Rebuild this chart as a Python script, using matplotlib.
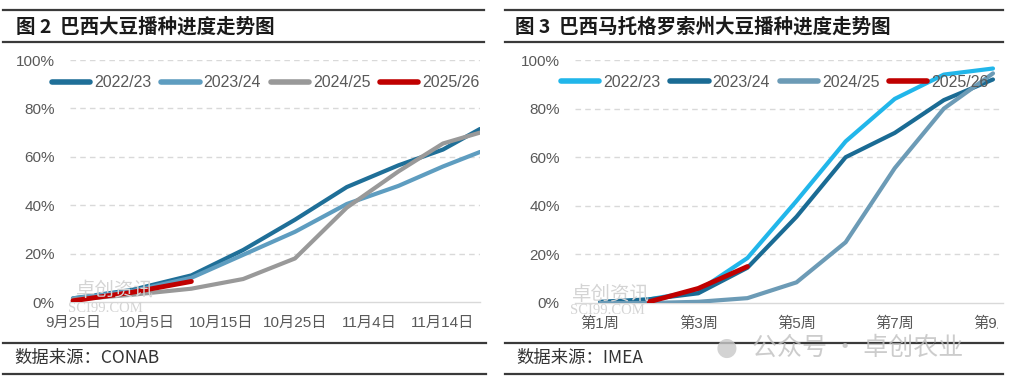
import matplotlib
matplotlib.use("Agg")
import matplotlib.pyplot as plt
import pandas as pd
from matplotlib.lines import Line2D
from matplotlib.transforms import Bbox, TransformedBbox

# ---------------- data ----------------
# Figure 2: Brazil soybean planting progress (CONAB), % planted
left_dates = ["2025-09-25", "2025-10-03", "2025-10-11", "2025-10-18", "2025-10-25",
              "2025-11-01", "2025-11-08", "2025-11-14", "2025-11-19"]
left_2022_23 = [1.5, 5.0, 11.0, 21.5, 34.0, 47.5, 56.5, 63.0, 71.5]
left_2023_24 = [1.5, 4.5, 10.0, 19.5, 29.0, 40.5, 48.0, 56.0, 62.0]
left_2024_25 = [1.0, 3.0, 5.5, 9.5, 18.0, 39.0, 54.0, 65.5, 70.0]
left_2025_26 = [0.5, 4.0, 8.5]
left_tick_dates = ["2025-09-25", "2025-10-05", "2025-10-15", "2025-10-25", "2025-11-04", "2025-11-14"]
left_tick_labels = ["9月25日", "10月5日", "10月15日", "10月25日", "11月4日", "11月14日"]

# Figure 3: Mato Grosso soybean planting progress (IMEA), % planted
right_weeks = [1, 2, 3, 4, 5, 6, 7, 8, 9]
right_2022_23 = [0.0, 1.5, 5.0, 18.5, 42.0, 66.5, 84.0, 94.0, 96.5]
right_2023_24 = [0.5, 1.5, 4.0, 14.5, 35.5, 60.0, 70.0, 83.5, 92.0]
right_2024_25 = [0.0, 0.0, 0.5, 2.0, 8.5, 25.0, 55.5, 80.0, 94.5]
right_2025_26_weeks = [2, 3, 4]
right_2025_26 = [0.5, 6.0, 15.0]
right_ticks = [1, 3, 5, 7, 9]
right_tick_labels = ["第1周", "第3周", "第5周", "第7周", "第9周"]

series_names = ["2022/23", "2023/24", "2024/25", "2025/26"]
y_ticks = [0, 20, 40, 60, 80, 100]
y_tick_labels = ["0%", "20%", "40%", "60%", "80%", "100%"]

# ---------------- style ----------------
W, H = 1012, 385
FONT = ["Liberation Sans", "Noto Sans CJK SC"]
CJK = ["Noto Sans CJK SC", "DejaVu Sans"]
TICK_COLOR = "#595959"
GRID_COLOR = "#d9d9d9"
RULE_COLOR = "#3a3a3a"
LW = 3.0

left_colors = ["#1f6f98", "#5e9dc0", "#999999", "#c00000"]
right_colors = ["#21b6ea", "#1a6b94", "#6c9bb6", "#c00000"]

plt.rcParams["font.family"] = FONT

fig = plt.figure(figsize=(W / 100, H / 100), dpi=100)
fig.patch.set_facecolor("white")


def px_axes(x0, x1, ytop, ybot):
    return fig.add_axes([x0 / W, (H - ybot) / H, (x1 - x0) / W, (ybot - ytop) / H])


def hrule(x0, x1, y, lw=1.6):
    fig.add_artist(Line2D([x0 / W, x1 / W], [(H - y) / H, (H - y) / H],
                          color=RULE_COLOR, lw=lw, transform=fig.transFigure))


def style_axes(ax):
    ax.set_ylim(0, 100)
    ax.set_yticks(y_ticks)
    ax.set_yticklabels(y_tick_labels)
    for s in ["top", "right", "left"]:
        ax.spines[s].set_visible(False)
    ax.spines["bottom"].set_color(GRID_COLOR)
    ax.spines["bottom"].set_linewidth(1.0)
    ax.tick_params(axis="both", length=0, colors=TICK_COLOR, labelsize=11)
    ax.tick_params(axis="y", pad=11)
    ax.tick_params(axis="x", pad=10)
    for y in y_ticks[1:]:
        ax.axhline(y, color=GRID_COLOR, lw=1.0, ls=(0, (4, 3)), zorder=0)
    for lbl in ax.get_xticklabels() + ax.get_yticklabels():
        lbl.set_fontfamily(FONT)


def add_legend(ax, colors, cx, cy):
    handles = [Line2D([0], [0], color=c, lw=4.0, solid_capstyle="round") for c in colors]
    leg = ax.legend(handles, series_names, loc="center", bbox_to_anchor=(cx, cy),
                    ncol=4, frameon=False, fontsize=11.5, handlelength=2.4,
                    handletextpad=0.25, columnspacing=0.6, borderaxespad=0, borderpad=0)
    for t in leg.get_texts():
        t.set_color(TICK_COLOR)
    return leg


# ---------------- left panel ----------------
base = pd.Timestamp(left_dates[0])
lx = [(pd.Timestamp(d) - base).days for d in left_dates]
ltick = [(pd.Timestamp(d) - base).days for d in left_tick_dates]

axL = px_axes(70, 480, 60, 302)
axL.set_xlim(-0.4, 55.0)
axL.set_xticks(ltick)
axL.set_xticklabels(left_tick_labels)
style_axes(axL)
for vals, c in zip([left_2022_23, left_2023_24, left_2024_25], left_colors[:3]):
    axL.plot(lx[:len(vals)], vals, color=c, lw=LW, solid_capstyle="round", zorder=3)
axL.plot(lx[:len(left_2025_26)], left_2025_26, color=left_colors[3], lw=LW + 0.5,
         solid_capstyle="round", zorder=4)
add_legend(axL, left_colors, 0.478, 0.905)

# watermark left
fig.text(76 / W, 1 - 290 / H, "卓创资讯", family=CJK, fontsize=14, color="#d4d4d4",
         va="center", ha="left", zorder=1)
fig.text(68 / W, 1 - 308 / H, "SCI99.COM", family=["Liberation Serif"], fontsize=10.5,
         color="#d4d4d4", va="center", ha="left", zorder=1)

# ---------------- right panel ----------------
axR = px_axes(575, 1003, 60, 303)
axR.set_xlim(0.49, 9.204)
axR.set_xticks(right_ticks)
axR.set_xticklabels(right_tick_labels)
style_axes(axR)
for vals, c in zip([right_2022_23, right_2023_24, right_2024_25], right_colors[:3]):
    axR.plot(right_weeks[:len(vals)], vals, color=c, lw=LW, solid_capstyle="round", zorder=3)
axR.plot(right_2025_26_weeks, right_2025_26, color=right_colors[3], lw=LW + 0.5,
         solid_capstyle="round", zorder=4)
add_legend(axR, right_colors, 0.467, 0.909)

clip = TransformedBbox(Bbox([[0, 0], [998 / W, 1]]), fig.transFigure)
for lbl in axR.get_xticklabels():
    lbl.set_clip_box(clip)
    lbl.set_clip_on(True)

fig.text(572 / W, 1 - 295 / H, "卓创资讯", family=CJK, fontsize=14, color="#d4d4d4",
         va="center", ha="left", zorder=1)
fig.text(570 / W, 1 - 310 / H, "SCI99.COM", family=["Liberation Serif"], fontsize=10.5,
         color="#d4d4d4", va="center", ha="left", zorder=1)

# ---------------- titles, rules, sources ----------------
hrule(3, 484, 10)
hrule(3, 484, 42)
hrule(505, 1003, 10)
hrule(505, 1003, 42)
fig.text(16 / W, 1 - 27 / H, "图 2  巴西大豆播种进度走势图", family=CJK, fontsize=14,
         fontweight="bold", color="#1a1a1a", va="center", ha="left")
fig.text(515 / W, 1 - 27 / H, "图 3  巴西马托格罗索州大豆播种进度走势图", family=CJK,
         fontsize=14, fontweight="bold", color="#1a1a1a", va="center", ha="left")

hrule(3, 486, 343)
hrule(3, 486, 374)
hrule(505, 1003, 343)
hrule(505, 1003, 374)
fig.text(14 / W, 1 - 358 / H, "数据来源：CONAB", family=CJK, fontsize=12.5,
         color="#333333", va="center", ha="left")
fig.text(516 / W, 1 - 358 / H, "数据来源：IMEA", family=CJK, fontsize=12.5,
         color="#333333", va="center", ha="left")

# WeChat watermark
fig.text(727 / W, 1 - 348 / H, "●", family=["DejaVu Sans"], fontsize=18, color="#c8c8c8",
         va="center", ha="center", alpha=0.8)
fig.text(752 / W, 1 - 348 / H, "公众号 · 卓创农业", family=CJK, fontsize=18,
         color="#c0c0c0", va="center", ha="left", alpha=0.8)

fig.savefig("out.png", dpi=100, facecolor="white")
